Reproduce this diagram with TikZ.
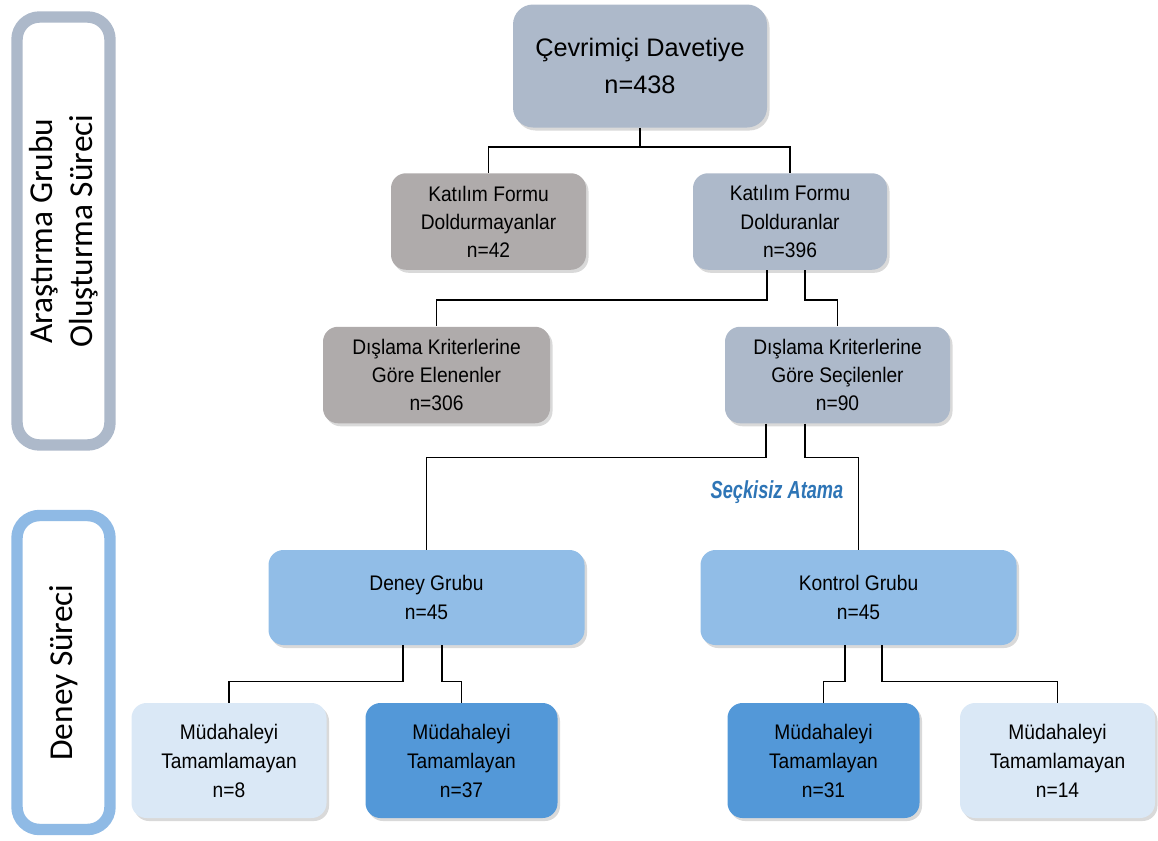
\documentclass[tikz,border=0pt]{standalone}
\usepackage{fontspec}
\setmainfont{Liberation Sans}
\newfontfamily\sidefont{Carlito}
\newfontfamily\boxfont[FakeStretch=0.91]{Liberation Sans}
\newfontfamily\narrowfont[FakeStretch=0.74]{Liberation Sans}
\usetikzlibrary{positioning, calc, shadows}
\definecolor{slatefill}{HTML}{ADB9CA}
\definecolor{greyfill}{HTML}{AFABAB}
\definecolor{groupfill}{HTML}{91BDE7}
\definecolor{donefill}{HTML}{5398D8}
\definecolor{dropfill}{HTML}{DAE8F6}
\definecolor{sideblue}{HTML}{8FBAE5}
\definecolor{labelblue}{HTML}{2E75B6}
\tikzset{
    stage/.style={rectangle, rounded corners=0.3cm, draw=none, align=center, inner sep=2pt,
        font=\boxfont\fontsize{12}{16}\selectfont,
        drop shadow={shadow xshift=0.05cm, shadow yshift=-0.06cm, opacity=0.3}},
    top stage/.style={stage, fill=slatefill, rounded corners=0.4cm, minimum width=5.08cm, minimum height=2.46cm,
        font=\fontsize{14.4}{21.5}\selectfont},
    kept/.style={stage, fill=slatefill, minimum height=1.93cm},
    dropped/.style={stage, fill=greyfill, minimum height=1.93cm},
    group/.style={stage, fill=groupfill, minimum width=6.32cm, minimum height=1.9cm},
    finished/.style={stage, fill=donefill, minimum width=3.84cm, minimum height=2.3cm, font=\boxfont\fontsize{12}{16.5}\selectfont},
    unfinished/.style={stage, fill=dropfill, minimum width=3.9cm, minimum height=2.3cm, font=\boxfont\fontsize{12}{16.5}\selectfont},
    phase/.style={rectangle, rounded corners=0.45cm, draw, line width=6.5pt, fill=white, rotate=90, align=center,
        minimum height=1.86cm, font=\sidefont\fontsize{19}{22.7}\selectfont},
    link/.style={line width=0.8pt}
}

\begin{document}
\begin{tikzpicture}
    \useasboundingbox (0,0) rectangle (23.16,-16.8);

    \node[phase, draw=slatefill, minimum width=8.56cm] (phaseone) at (1.27,-4.62) {Araştırma Grubu\\Oluşturma Süreci};
    \node[phase, draw=sideblue, minimum width=6.28cm] (phasetwo) at (1.27,-13.45) {Deney Süreci};

    \node[top stage] (invite) at (12.8,-1.32) {Çevrimiçi Davetiye\\n=438};

    \node[dropped, minimum width=3.9cm] (notfilled) at (9.77,-4.43) {Katılım Formu\\Doldurmayanlar\\n=42};
    \node[kept, minimum width=3.88cm] (filled) at (15.8,-4.43) {Katılım Formu\\Dolduranlar\\n=396};

    \node[dropped, minimum width=4.54cm] (excluded) at (8.73,-7.5) {Dışlama Kriterlerine\\Göre Elenenler\\n=306};
    \node[kept, minimum width=4.5cm] (selected) at (16.75,-7.5) {Dışlama Kriterlerine\\Göre Seçilenler\\n=90};

    \node[group] (deney) at (8.53,-11.95) {Deney Grubu\\n=45};
    \node[group] (kontrol) at (17.17,-11.95) {Kontrol Grubu\\n=45};

    \node[unfinished] (expfail) at (4.58,-15.21) {Müdahaleyi\\Tamamlamayan\\n=8};
    \node[finished] (expdone) at (9.23,-15.21) {Müdahaleyi\\Tamamlayan\\n=37};
    \node[finished] (ctrldone) at (16.47,-15.21) {Müdahaleyi\\Tamamlayan\\n=31};
    \node[unfinished] (ctrlfail) at (21.15,-15.21) {Müdahaleyi\\Tamamlamayan\\n=14};

    \node[text=labelblue, font=\narrowfont\bfseries\itshape\fontsize{14}{16}\selectfont] (random) at (15.54,-9.84) {Seçkisiz Atama};

    \draw[link] (invite.south) -- ++(0,-0.38) -| (notfilled.north);
    \draw[link] (invite.south) -- ++(0,-0.38) -| (filled.north);
    \draw[link] ([xshift=-0.46cm]filled.south) -- ++(0,-0.6) -| (excluded.north);
    \draw[link] ([xshift=0.3cm]filled.south) -- ++(0,-0.6) -| (selected.north);
    \draw[link] ([xshift=-1.43cm]selected.south) -- ++(0,-0.68) -| (deney.north);
    \draw[link] ([xshift=-0.65cm]selected.south) -- ++(0,-0.68) -| (kontrol.north);
    \draw[link] ([xshift=-0.47cm]deney.south) -- ++(0,-0.72) -| (expfail.north);
    \draw[link] ([xshift=0.31cm]deney.south) -- ++(0,-0.72) -| (expdone.north);
    \draw[link] ([xshift=-0.27cm]kontrol.south) -- ++(0,-0.72) -| (ctrldone.north);
    \draw[link] ([xshift=0.47cm]kontrol.south) -- ++(0,-0.72) -| (ctrlfail.north);
\end{tikzpicture}
\end{document}
